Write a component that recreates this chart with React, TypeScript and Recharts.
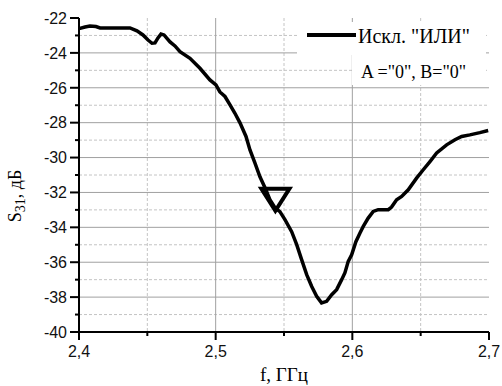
import React from 'react';
import {
  LineChart,
  Line,
  XAxis,
  YAxis,
  CartesianGrid,
  ReferenceDot,
  Legend,
} from 'recharts';

const FREQ = [
  2.4, 2.4044, 2.408, 2.4124, 2.4154, 2.4373, 2.4424, 2.4468, 2.4505, 2.4534,
  2.4556, 2.4578, 2.46, 2.4622, 2.4666, 2.4702, 2.4739, 2.4812, 2.4885, 2.4958,
  2.5002, 2.5031, 2.5068, 2.5105, 2.5141, 2.5178, 2.5222, 2.5251, 2.5287, 2.5324,
  2.5361, 2.5397, 2.5434, 2.547, 2.5507, 2.5556, 2.5593, 2.5629, 2.5666, 2.5702,
  2.5739, 2.5775, 2.5812, 2.5849, 2.5885, 2.5922, 2.5946, 2.597, 2.5995, 2.6026,
  2.6056, 2.608, 2.6116, 2.6153, 2.6189, 2.6263, 2.6287, 2.6324, 2.6361, 2.6409,
  2.647, 2.6519, 2.6568, 2.6617, 2.669, 2.6751, 2.68, 2.686, 2.6933, 2.6994,
];
const S31 = [
  -22.61, -22.52, -22.46, -22.49, -22.57, -22.57, -22.74, -22.97, -23.26, -23.45,
  -23.43, -23.14, -22.92, -22.97, -23.37, -23.6, -23.93, -24.31, -24.88, -25.55,
  -25.84, -26.24, -26.5, -26.98, -27.46, -28.01, -28.79, -29.56, -30.3, -31.1,
  -31.73, -32.42, -32.88, -33.1, -33.56, -34.25, -34.99, -35.85, -36.71, -37.38,
  -37.95, -38.33, -38.24, -37.86, -37.57, -37.0, -36.6, -35.95, -35.57, -34.82,
  -34.32, -33.95, -33.47, -33.09, -32.99, -32.99, -32.84, -32.42, -32.23, -31.85,
  -31.18, -30.7, -30.23, -29.74, -29.27, -28.98, -28.79, -28.7, -28.57, -28.45,
];

const Y_TICKS = [
  -40, -39, -38, -37, -36, -35, -34, -33, -32, -31, -30, -29, -28, -27, -26, -25,
  -24, -23, -22,
];
const X_TICKS = [2.4, 2.45, 2.5, 2.55, 2.6, 2.65, 2.7];
const Y_MAJOR_GRID = [-38, -36, -34, -32, -30, -28, -26, -24];
const Y_MINOR_GRID = [-39, -37, -35, -33, -31, -29, -27, -25, -23];
const X_MAJOR_GRID = [2.5, 2.6];
const X_MINOR_GRID = [2.45, 2.55, 2.65];

// triangle marker position
const MARKER_F = 2.5437;
const MARKER_S31 = -32.42;

const data = FREQ.map((f, i) => ({ f, s31: S31[i] }));

const SANS = '"Liberation Sans", Arial, sans-serif';
const SERIF = '"Liberation Serif", "Times New Roman", serif';

const YTick = ({ x, y, payload }: any) => {
  const major = payload.value % 2 === 0;
  const axisX = x + 12;
  return (
    <g>
      <line x1={axisX - (major ? 9 : 4)} x2={axisX} y1={y} y2={y} stroke="#000" strokeWidth={2} />
      {major && (
        <text x={x} y={y} dy="0.36em" textAnchor="end" fontFamily={SANS} fontSize={16} fill="#111">
          {payload.value}
        </text>
      )}
    </g>
  );
};

const XTick = ({ x, y, payload }: any) => {
  const major = Math.round(payload.value * 100) % 10 === 0;
  const axisY = y - 14;
  return (
    <g>
      <line x1={x} x2={x} y1={axisY} y2={axisY + (major ? 8 : 4)} stroke="#000" strokeWidth={2} />
      {major && (
        <text x={x} y={y} dy="0.71em" textAnchor="middle" fontFamily={SANS} fontSize={16} fill="#111">
          {payload.value.toFixed(1).replace('.', ',')}
        </text>
      )}
    </g>
  );
};

const YLabel = ({ viewBox }: any) => {
  const cx = viewBox.x + 21;
  const cy = viewBox.y + viewBox.height / 2 + 21;
  return (
    <text
      x={cx}
      y={cy}
      transform={`rotate(-90 ${cx} ${cy})`}
      textAnchor="middle"
      fontFamily={SERIF}
      fontSize={18}
      fill="#000"
    >
      S
      <tspan fontSize={14} dy={4}>31</tspan>
      <tspan dy={-4}>, дБ</tspan>
    </text>
  );
};

const Triangle = ({ cx, cy }: any) => (
  <polygon
    points={`${cx - 14},${cy - 11} ${cx + 14},${cy - 11} ${cx},${cy + 11}`}
    fill="none"
    stroke="#000"
    strokeWidth={4}
  />
);

const LegendBox = () => (
  <div style={{ position: 'relative', width: 189, height: 63, fontFamily: SERIF, color: '#000' }}>
    <div style={{ position: 'absolute', left: 0, top: 0, width: 189, height: 33, background: '#fff' }} />
    <div style={{ position: 'absolute', left: 55, top: 33, width: 134, height: 30, background: '#fff' }} />
    <div style={{ position: 'absolute', left: 10, top: 11, width: 49, height: 4, background: '#000' }} />
    <div style={{ position: 'absolute', left: 61, top: 2, fontSize: 20, lineHeight: '24px', whiteSpace: 'nowrap' }}>
      Искл. "ИЛИ"
    </div>
    <div style={{ position: 'absolute', left: 64, top: 39, fontSize: 18, lineHeight: '22px', whiteSpace: 'nowrap' }}>
      A ="0", B="0"
    </div>
  </div>
);

export default function App() {
  return (
    <div style={{ position: 'absolute', left: 0, top: 0, background: '#fff' }}>
      <LineChart width={502} height={386} data={data} margin={{ top: 18, right: 13, left: 0, bottom: 0 }}>
        <CartesianGrid
          horizontalValues={Y_MINOR_GRID}
          verticalValues={X_MINOR_GRID}
          stroke="#c4c4c4"
          strokeDasharray="3 2"
        />
        <CartesianGrid horizontalValues={Y_MAJOR_GRID} verticalValues={X_MAJOR_GRID} stroke="#a0a0a0" />
        <XAxis
          dataKey="f"
          type="number"
          domain={[2.4, 2.7]}
          ticks={X_TICKS}
          interval={0}
          height={54}
          tickSize={8}
          tickMargin={6}
          tickLine={false}
          tick={XTick}
          axisLine={{ stroke: '#000', strokeWidth: 2 }}
          label={{
            value: 'f, ГГц',
            position: 'insideBottom',
            offset: 5,
            fill: '#000',
            fontSize: 19,
            fontFamily: SERIF,
          }}
        />
        <XAxis
          xAxisId="top"
          orientation="top"
          type="number"
          domain={[2.4, 2.7]}
          height={0}
          tick={false}
          tickLine={false}
          axisLine={{ stroke: '#000', strokeWidth: 2 }}
        />
        <YAxis
          type="number"
          domain={[-40, -22]}
          ticks={Y_TICKS}
          interval={0}
          width={79}
          tickSize={9}
          tickMargin={3}
          tickLine={false}
          tick={YTick}
          axisLine={{ stroke: '#000', strokeWidth: 2 }}
          label={{ content: YLabel }}
        />
        <YAxis
          yAxisId="right"
          orientation="right"
          type="number"
          domain={[-40, -22]}
          width={0}
          tick={false}
          tickLine={false}
          axisLine={{ stroke: '#000', strokeWidth: 2 }}
        />
        <Line
          type="linear"
          dataKey="s31"
          stroke="#000"
          strokeWidth={3.5}
          dot={false}
          isAnimationActive={false}
        />
        <ReferenceDot x={MARKER_F} y={MARKER_S31} r={12} shape={Triangle} />
        <Legend
          layout="horizontal"
          verticalAlign="middle"
          align="center"
          content={LegendBox}
          wrapperStyle={{ left: 297, top: 22, width: 189, height: 63 }}
        />
      </LineChart>
    </div>
  );
}
